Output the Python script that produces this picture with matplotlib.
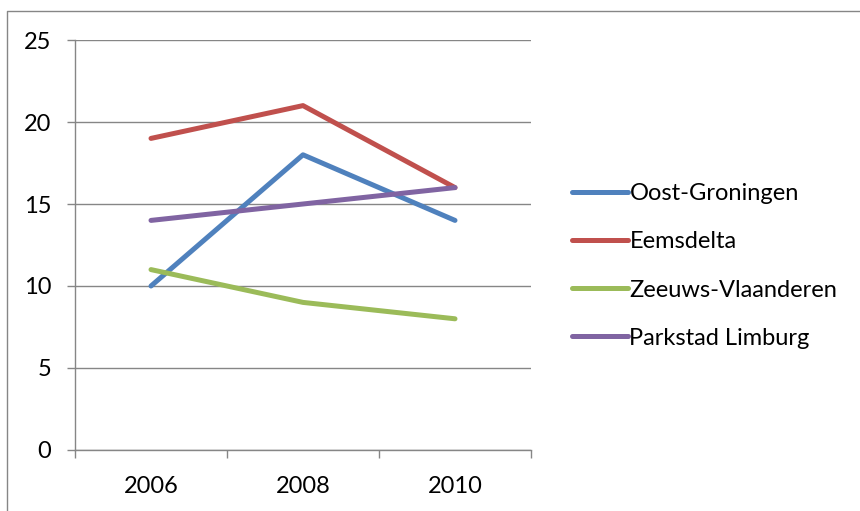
import matplotlib
matplotlib.use("Agg")
import matplotlib.pyplot as plt
from matplotlib.lines import Line2D

# data
years = ["2006", "2008", "2010"]
oost_groningen = [10, 18, 14]
eemsdelta = [19, 21, 16]
zeeuws_vlaanderen = [11, 9, 8]
parkstad_limburg = [14, 15, 16]

series = [
    ("Oost-Groningen", oost_groningen, "#4F81BD"),
    ("Eemsdelta", eemsdelta, "#C0504D"),
    ("Zeeuws-Vlaanderen", zeeuws_vlaanderen, "#9BBB59"),
    ("Parkstad Limburg", parkstad_limburg, "#8064A2"),
]

plt.rcParams['font.family'] = ['Lato', 'DejaVu Sans']
W, H = 860, 511
fs = 17
fig = plt.figure(figsize=(W / 100, H / 100), dpi=100)
ax = fig.add_axes([75 / W, 1 - 450 / H, (531 - 75) / W, (450 - 40) / H])

grid_col = "#868686"
x = list(range(len(years)))
for name, vals, col in series:
    ax.plot(x, vals, color=col, lw=3.6, label=name, solid_capstyle="round")

ax.set_xlim(-0.5, len(years) - 0.5)
ax.set_ylim(0, 25)
ax.set_yticks(range(0, 26, 5))
ax.set_xticks(x)
ax.set_xticklabels(years)
ax.set_xticks([i - 0.5 for i in range(len(years) + 1)], minor=True)
ax.yaxis.grid(True, color=grid_col, lw=1)
ax.set_axisbelow(True)
for s in ["top", "right"]:
    ax.spines[s].set_visible(False)
for s in ["left", "bottom"]:
    ax.spines[s].set_color(grid_col)
    ax.spines[s].set_linewidth(1)
ax.tick_params(axis="y", length=6, width=1, color=grid_col, pad=11, labelsize=fs)
ax.tick_params(axis="x", which="major", length=0, pad=19, labelsize=fs)
ax.tick_params(axis="x", which="minor", length=6, width=1, color=grid_col)

ax.legend(loc="center left", bbox_to_anchor=(551 / W, 1 - 266 / H),
          bbox_transform=fig.transFigure, frameon=False, fontsize=fs,
          handlelength=2.37, handletextpad=0.05, labelspacing=1.15)

# outer chart border (cut off at right and bottom)
fig.add_artist(Line2D([6.5 / W, 6.5 / W, 1.0], [0.0, 1 - 11.5 / H, 1 - 11.5 / H],
                      transform=fig.transFigure, color=grid_col, lw=1))

fig.savefig("out.png", dpi=100)
